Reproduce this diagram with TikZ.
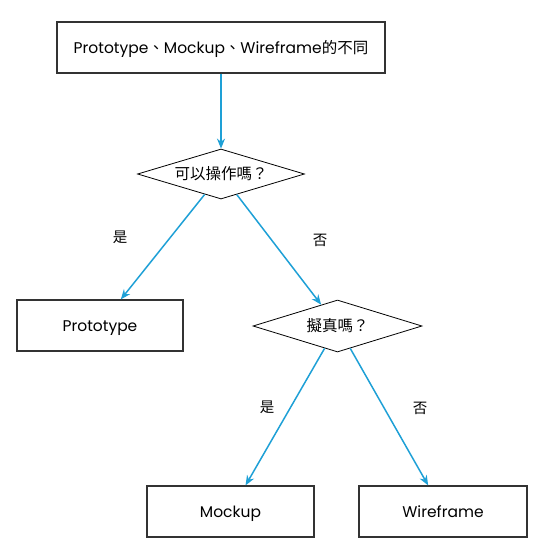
\documentclass[tikz,border=0pt]{standalone}
\usepackage{fontspec}
\setmainfont{Poppins}
\newfontfamily\cjk{Noto Sans CJK TC}
\usetikzlibrary{shapes.geometric,arrows.meta}
\definecolor{arrowblue}{RGB}{30,160,214}

\begin{document}
\begin{tikzpicture}[x=1pt, y=-1pt,
    box/.style = {draw=black!80, line width=1.2pt, minimum width=166pt, minimum height=51pt, text height=11pt, text depth=0pt, font=\fontsize{15.5}{17}\selectfont},
    ask/.style = {diamond, draw, line width=0.8pt, aspect=3.3, inner sep=0pt, minimum width=167pt, minimum height=50pt, font=\cjk\fontsize{15.5}{17}\selectfont},
    flow/.style = {draw=arrowblue, line width=1.5pt, -{Stealth[length=10pt, width=8pt]}},
    ans/.style = {font=\cjk\fontsize{14.5}{16}\selectfont}]
            \useasboundingbox (0,0) rectangle (545,557);
            %\draw (0,0) rectangle (545,557);
            \node[box, minimum width=328pt] (title) at (221,47.5) {Prototype{\cjk 、}Mockup{\cjk 、}Wireframe{\cjk 的不同}};
            \node[ask] (canuse) at (221,174) {可以操作嗎？};
            \node[box] (proto) at (100,325.5) {Prototype};
            \node[ask, minimum width=169pt, minimum height=52pt] (lifelike) at (337.5,326) {擬真嗎？};
            \node[box, minimum width=167pt] (mock) at (230.5,511.5) {Mockup};
            \node[box, minimum width=168pt] (wire) at (443,511.5) {Wireframe};

            \draw[flow] (title) -- (canuse);
            \draw[flow] (canuse) -- (proto);
            \draw[flow] (canuse) -- (lifelike);
            \draw[flow] (lifelike) -- (mock);
            \draw[flow] (lifelike) -- (wire);

            \node[ans] (yes1) at (120,237) {是};
            \node[ans] (no1) at (320,240) {否};
            \node[ans] (yes2) at (267,407) {是};
            \node[ans] (no2) at (420,408) {否};
            \end{tikzpicture}
\end{document}
